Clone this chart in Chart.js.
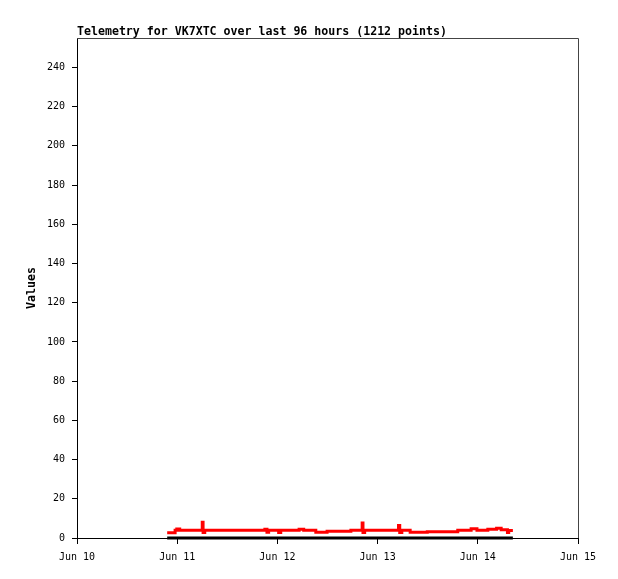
<!DOCTYPE html>
<html>
<head>
<meta charset="utf-8">
<script src="https://cdn.jsdelivr.net/npm/chart.js@4/dist/chart.umd.min.js"></script>
<style>
    html, body { margin: 0; padding: 0; background: #fff; }
    #wrap { width: 618px; height: 579px; }
</style>
</head>
<body>
<div id="wrap"><canvas id="telemChart" width="618" height="579"></canvas></div>
<script>
// hours since Jun 10 00:00
const dayLabels = ["Jun 10", "Jun 11", "Jun 12", "Jun 13", "Jun 14", "Jun 15"];
const redHours = [21.6, 23.5, 23.9, 24.6, 30.0, 30.2, 30.6, 45.0, 45.5, 45.9, 48.3, 48.8, 53.2, 54.3, 57.2, 59.9,
                  65.6, 68.3, 68.5, 68.9, 77.0, 77.3, 77.8, 79.8, 83.9, 91.2, 94.4, 95.8, 98.4, 100.5, 101.6, 103.1, 103.4, 104.4];
const redValues = [2.7, 3.9, 4.6, 3.9, 8.0, 2.8, 3.9, 4.4, 2.9, 3.9, 2.8, 3.9, 4.5, 3.9, 2.9, 3.4,
                   3.9, 7.6, 2.8, 3.9, 6.4, 2.8, 3.9, 2.9, 3.2, 3.9, 4.7, 3.9, 4.4, 5.0, 4.2, 2.8, 3.8, 3.8];
const blackHours = [21.6, 104.4];
const blackValues = [0, 0];
const chartTitle = "Telemetry for VK7XTC over last 96 hours (1212 points)";

const toPoints = (xs, ys) => xs.map((x, i) => ({x: x, y: ys[i]}));

const monoFont = "'DejaVu Sans Mono', monospace";

// title + box frame
const framePlugin = {
    id: "frame",
    afterDraw: (chart) => {
        const {ctx, chartArea: a} = chart;
        ctx.save();
        ctx.strokeStyle = "#444";
        ctx.lineWidth = 1;
        ctx.beginPath();
        ctx.moveTo(a.left, a.top + 0.5);
        ctx.lineTo(a.right + 0.5, a.top + 0.5);
        ctx.lineTo(a.right + 0.5, a.bottom);
        ctx.stroke();
        ctx.fillStyle = "#000";
        ctx.font = "bold 11.6px " + monoFont;
        ctx.textBaseline = "alphabetic";
        ctx.fillText(chartTitle, a.left, 35);
        ctx.restore();
    }
};

const ctx = document.getElementById("telemChart");
const chart = new Chart(ctx, {
    type: "line",
    data: {
        datasets: [
            {
                data: toPoints(blackHours, blackValues),
                borderColor: "#000",
                borderWidth: 3,
                pointRadius: 0,
                clip: false
            },
            {
                data: toPoints(redHours, redValues),
                borderColor: "#ff0000",
                borderWidth: 3,
                pointRadius: 0,
                stepped: true,
                clip: false
            }
        ]
    },
    options: {
        responsive: false,
        animation: false,
        layout: {padding: {top: 38, right: 40, left: 25, bottom: 0}},
        plugins: {legend: {display: false}, tooltip: {enabled: false}},
        scales: {
            x: {
                type: "linear",
                min: 0,
                max: 120,
                afterFit: (s) => { s.height = 41; },
                grid: {drawOnChartArea: false, drawTicks: true, tickLength: 6, color: "#000"},
                border: {color: "#000", width: 1},
                ticks: {
                    stepSize: 24,
                    color: "#000",
                    padding: 7,
                    maxRotation: 0,
                    font: {family: monoFont, size: 10},
                    callback: (v) => dayLabels[v / 24]
                }
            },
            y: {
                min: 0,
                max: 255,
                afterFit: (s) => { s.width = 52; },
                grid: {drawOnChartArea: false, drawTicks: true, tickLength: 5, color: "#000"},
                border: {color: "#000", width: 1},
                title: {
                    display: true,
                    text: "Values",
                    color: "#000",
                    padding: {top: 0, bottom: 0},
                    font: {family: monoFont, size: 11.6, weight: "bold"}
                },
                ticks: {
                    stepSize: 20,
                    includeBounds: false,
                    color: "#000",
                    padding: 7,
                    font: {family: monoFont, size: 10}
                }
            }
        }
    },
    plugins: [framePlugin]
});
</script>
</body>
</html>
